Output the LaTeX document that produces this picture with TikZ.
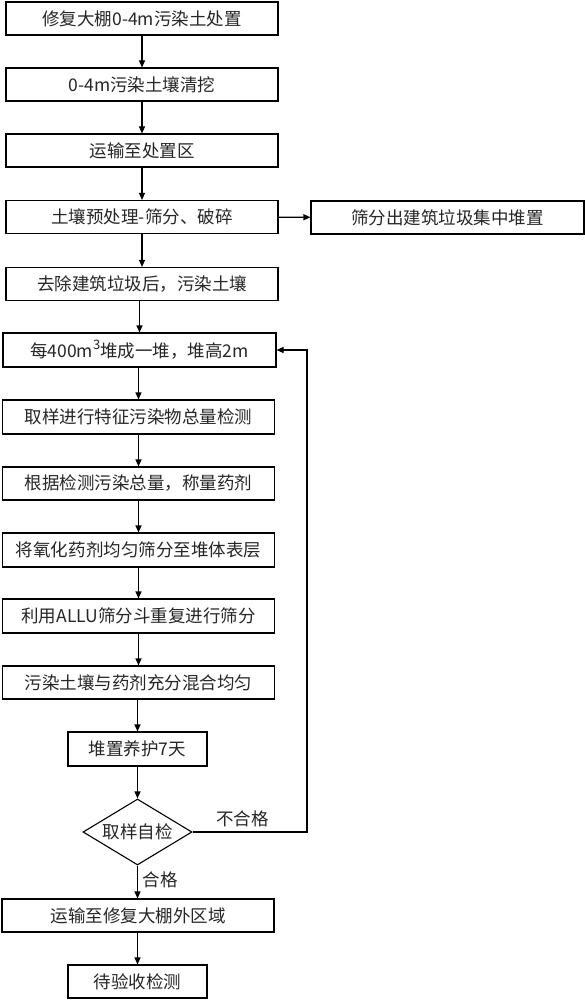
\documentclass[tikz,border=0pt]{standalone}
\usepackage{fontspec}
\newfontfamily\cjk{Noto Sans CJK SC}
\usetikzlibrary{arrows.meta,shapes.geometric}
\tikzset{
  box/.style={draw=black,line width=1.1pt,rectangle,inner sep=0pt,minimum height=33pt,
    font=\cjk\fontsize{17.5}{20}\selectfont,text=black!85},
  decide/.style={draw=black,line width=1.1pt,diamond,inner sep=0pt,aspect=1.65,
    minimum width=109pt,minimum height=66pt,font=\cjk\fontsize{17.5}{20}\selectfont,text=black!85},
  lbl/.style={font=\cjk\fontsize{17.5}{20}\selectfont,text=black!85,inner sep=0pt},
  arr/.style={draw=black,line width=1.1pt,-{Triangle[length=7pt,width=6pt]}},
  ln/.style={draw=black,line width=1.1pt}
}
\begin{document}
\begin{tikzpicture}[x=1pt,y=-1pt]
\useasboundingbox (0,0) rectangle (585,1000);
\fill[white] (0,0) rectangle (585,1000);
\node[box,minimum width=272pt] (b1) at (142,18.5) {修复大棚0-4m污染土处置};
\node[box,minimum width=272pt] (b2) at (142,84.5) {0-4m污染土壤清挖};
\node[box,minimum width=272pt] (b3) at (142,150.5) {运输至处置区};
\node[box,minimum width=272pt] (b4) at (142,217) {土壤预处理-筛分、破碎};
\node[box,minimum width=273pt] (side) at (447.5,217.5) {筛分出建筑垃圾集中堆置};
\node[box,minimum width=272pt] (b5) at (142,284) {去除建筑垃圾后，污染土壤};
\node[box,minimum width=273pt,minimum height=34pt] (b6) at (139.5,350) {每400m\raisebox{0.45em}{\fontsize{13}{14}\selectfont 3}堆成一堆，堆高2m};
\node[box,minimum width=272pt,minimum height=34pt] (b7) at (138.5,417) {取样进行特征污染物总量检测};
\node[box,minimum width=272pt] (b8) at (138.5,483.5) {根据检测污染总量，称量药剂};
\node[box,minimum width=272pt,minimum height=34pt] (b9) at (138.5,550) {将氧化药剂均匀筛分至堆体表层};
\node[box,minimum width=272pt,minimum height=34pt] (b10) at (138.5,616) {利用ALLU筛分斗重复进行筛分};
\node[box,minimum width=272pt] (b11) at (138.5,682.5) {污染土壤与药剂充分混合均匀};
\node[box,minimum width=139pt,minimum height=34pt] (b12) at (137.5,749) {堆置养护7天};
\node[decide] (d) at (137.5,832) {取样自检};
\node[box,minimum width=272pt] (b13) at (138,915.5) {运输至修复大棚外区域};
\node[box,minimum width=139pt] (b14) at (137.5,981.5) {待验收检测};
\coordinate (r1) at (307,832);
\coordinate (r2) at (307,350);
\draw[arr] (b1) -- (b2);
\draw[arr] (b2) -- (b3);
\draw[arr] (b3) -- (b4);
\draw[arr] (b4) -- (b5);
\draw[arr] (b4) -- (side);
\draw[arr] (b5.south -| b6.north) -- (b6);
\draw[arr] (b6.south -| b7.north) -- (b7);
\draw[arr] (b7) -- (b8);
\draw[arr] (b8) -- (b9);
\draw[arr] (b9) -- (b10);
\draw[arr] (b10) -- (b11);
\draw[arr] (b11.south -| b12.north) -- (b12);
\draw[arr] (b12) -- (d);
\draw[arr] (d) -- (b13.north -| d.south);
\draw[arr] (b13.south -| b14.north) -- (b14);
\draw[arr] (d.east) -- (r1) -- (r2) -- (b6.east);
\node[lbl] (nq) at (242.5,819) {不合格};
\node[lbl] (q) at (160,880) {合格};
\end{tikzpicture}
\end{document}
